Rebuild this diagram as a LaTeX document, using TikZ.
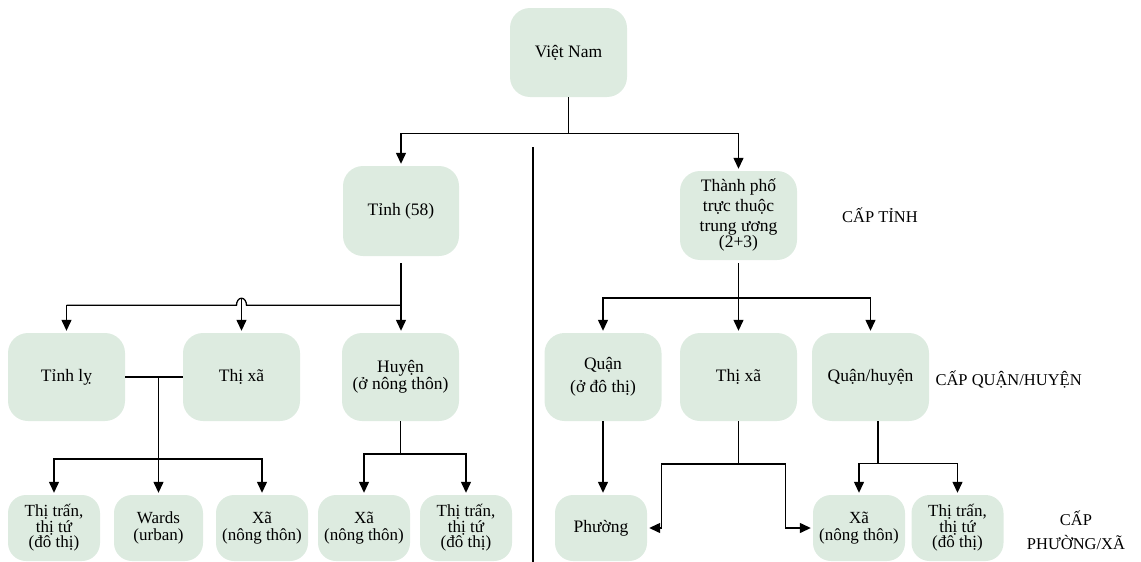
\documentclass[tikz,border=0pt]{standalone}
\usepackage{fontspec}
\setmainfont{Liberation Serif}
\usetikzlibrary{arrows.meta,calc}
\definecolor{boxgreen}{HTML}{DDEBE0}
\begin{document}
\begin{tikzpicture}[x=1pt,y=1pt,
  font=\fontsize{17.5}{20}\selectfont,
  box/.style={rounded corners=20pt, fill=boxgreen, align=center, inner sep=0pt},
  bigbox/.style={box, minimum width=117, minimum height=88},
  smallbox/.style={box, rounded corners=18pt, minimum width=92, minimum height=66},
  tight/.style={font=\fontsize{17}{14.5}\selectfont},
  twoline/.style={font=\fontsize{17}{16.5}\selectfont},
  conn/.style={line width=1.3pt},
  arr/.style={line width=1.3pt, -{Triangle[length=11pt,width=10pt]}, shorten >=2pt},
  lbl/.style={font=\fontsize{16.5}{24}\selectfont, align=center}]
\useasboundingbox (0,0) rectangle (1141,-562);

% level 0
\node[box, minimum width=117, minimum height=89] (vn) at (568.5,-52.5) {Việt Nam};
% level 1
\node[box, minimum width=116, minimum height=90] (tinh) at (401,-211) {Tỉnh (58)};
\node[box, minimum width=117, minimum height=89, font=\fontsize{17.5}{20}\selectfont] (tp) at (738.5,-215.5) {Thành phố\\trực thuộc\\trung ương\\[-4pt](2+3)};
% level 2
\node[bigbox] (tinhly) at (66.5,-377) {Tỉnh lỵ};
\node[bigbox] (thixa1) at (241.5,-377) {Thị xã};
\node[bigbox, font=\fontsize{17.5}{16.5}\selectfont] (huyen) at (400.5,-377) {Huyện\\(ở nông thôn)};
\node[bigbox, font=\fontsize{17.5}{23}\selectfont] (quan) at (603,-377) {Quận\\(ở đô thị)};
\node[bigbox] (thixa2) at (738.5,-377) {Thị xã};
\node[bigbox] (qh) at (870.5,-377) {Quận/huyện};
% level 3
\node[smallbox, tight] (tt1) at (54,-528) {Thị trấn,\\thị tứ\\(đô thị)};
\node[smallbox, twoline, minimum width=89] (wards) at (158.5,-528) {Wards\\(urban)};
\node[smallbox, twoline] (xa1) at (262,-528) {Xã\\(nông thôn)};
\node[smallbox, twoline] (xa2) at (364,-528) {Xã\\(nông thôn)};
\node[smallbox, tight] (tt2) at (466,-528) {Thị trấn,\\thị tứ\\(đô thị)};
\node[smallbox] (phuong) at (601,-528) {Phường};
\node[smallbox, twoline] (xa3) at (859,-528) {Xã\\(nông thôn)};
\node[smallbox, tight] (tt3) at (957.5,-528) {Thị trấn,\\thị tứ\\(đô thị)};

% level labels
\node[lbl] (ltinh) at (880,-215) {CẤP TỈNH};
\node[lbl, anchor=west] (lquan) at (932,-380) {CẤP QUẬN/HUYỆN};
\node[lbl] (lphuong) at (1076,-530) {CẤP\\PHƯỜNG/XÃ};

% divider
\coordinate (d1) at (533,-147);
\coordinate (d2) at (533,-562);
\draw[line width=2.2pt] (d1) -- (d2);

% Viet Nam -> level 1
\draw[conn] (vn.south) -- ++(0,-36) coordinate (j1);
\draw[arr] (j1) -| (tinh.north);
\draw[arr] (j1) -| (tp.north);

% Tinh -> children
\draw[conn] ($(tinh.south)+(0,-7)$) -- ($(tinh.south)+(0,-49)$) coordinate (j2);
\draw[arr] (j2) -- (j2 |- huyen.north);
\draw[conn] (j2) -- ($(j2 -| thixa1.north)+(5,0)$) arc[start angle=0, end angle=180, x radius=5, y radius=7] -- (j2 -| tinhly.north);
\draw[arr] (j2 -| tinhly.north) -- (tinhly.north);
\draw[arr] ($(j2 -| thixa1.north)+(0,7)$) -- (thixa1.north);

% Tinh ly / Thi xa -> children
\draw[conn] (tinhly.east) -- (thixa1.west);
\draw[conn] (tinhly.east -| wards.north) -- (wards.north |- 0,-459) coordinate (j4);
\draw[arr] (j4) -- (wards.north);
\draw[arr] (j4) -| (tt1.north);
\draw[arr] (j4) -| (xa1.north);

% Huyen -> children
\draw[conn] (huyen.south) -- (huyen.south |- 0,-454) coordinate (j5);
\draw[arr] (j5) -| (xa2.north);
\draw[arr] (j5) -| (tt2.north);

% Thanh pho -> children
\draw[conn] ($(tp.south)+(0,-3)$) -- (tp.south |- 0,-298) coordinate (j6);
\draw[arr] (j6) -| (quan.north);
\draw[arr] (j6) -- (thixa2.north);
\draw[arr] (j6) -| (qh.north);

% Quan -> Phuong
\draw[arr] (quan.south) -- (quan.south |- phuong.north);

% Thi xa (right) -> Phuong, Xa
\draw[conn] (thixa2.south) -- (thixa2.south |- 0,-464) coordinate (j7);
\draw[arr] (j7) -| ($(phuong.east)+(14,0)$) -- (phuong.east);
\draw[arr] (j7) -| ($(xa3.west)+(-27,0)$) -- (xa3.west);

% Quan/huyen -> children
\draw[conn] ($(qh.south)+(7.5,0)$) -- ($(qh.south)+(7.5,-42)$) coordinate (j8);
\draw[arr] (j8) -| (xa3.north);
\draw[arr] (j8) -| (tt3.north);
\end{tikzpicture}
\end{document}
